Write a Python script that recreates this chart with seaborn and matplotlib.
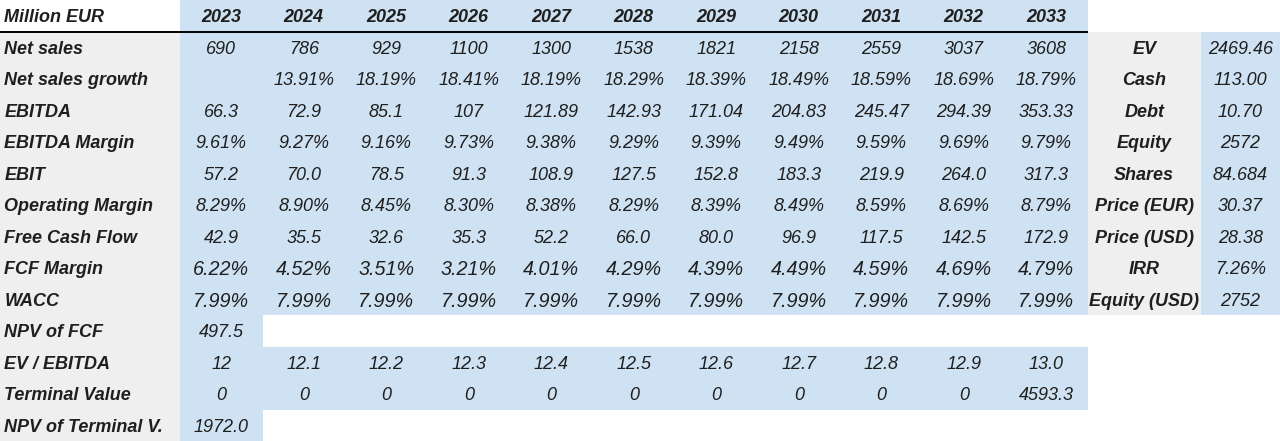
import numpy as np
import matplotlib
matplotlib.use("Agg")
import matplotlib.pyplot as plt
from matplotlib.colors import ListedColormap
import seaborn as sns

# ---------------- data ----------------
years = ["2023", "2024", "2025", "2026", "2027", "2028", "2029", "2030", "2031", "2032", "2033"]
row_labels = ["Net sales", "Net sales growth", "EBITDA", "EBITDA Margin", "EBIT",
              "Operating Margin", "Free Cash Flow", "FCF Margin", "WACC", "NPV of FCF",
              "EV / EBITDA", "Terminal Value", "NPV of Terminal V."]
net_sales = ["690", "786", "929", "1100", "1300", "1538", "1821", "2158", "2559", "3037", "3608"]
net_sales_growth = ["", "13.91%", "18.19%", "18.41%", "18.19%", "18.29%", "18.39%", "18.49%", "18.59%", "18.69%", "18.79%"]
ebitda = ["66.3", "72.9", "85.1", "107", "121.89", "142.93", "171.04", "204.83", "245.47", "294.39", "353.33"]
ebitda_margin = ["9.61%", "9.27%", "9.16%", "9.73%", "9.38%", "9.29%", "9.39%", "9.49%", "9.59%", "9.69%", "9.79%"]
ebit = ["57.2", "70.0", "78.5", "91.3", "108.9", "127.5", "152.8", "183.3", "219.9", "264.0", "317.3"]
operating_margin = ["8.29%", "8.90%", "8.45%", "8.30%", "8.38%", "8.29%", "8.39%", "8.49%", "8.59%", "8.69%", "8.79%"]
free_cash_flow = ["42.9", "35.5", "32.6", "35.3", "52.2", "66.0", "80.0", "96.9", "117.5", "142.5", "172.9"]
fcf_margin = ["6.22%", "4.52%", "3.51%", "3.21%", "4.01%", "4.29%", "4.39%", "4.49%", "4.59%", "4.69%", "4.79%"]
wacc = ["7.99%"] * 11
npv_fcf = ["497.5"] + [""] * 10
ev_ebitda = ["12", "12.1", "12.2", "12.3", "12.4", "12.5", "12.6", "12.7", "12.8", "12.9", "13.0"]
terminal_value = ["0", "0", "0", "0", "0", "0", "0", "0", "0", "0", "4593.3"]
npv_terminal = ["1972.0"] + [""] * 10

summary_labels = ["EV", "Cash", "Debt", "Equity", "Shares", "Price (EUR)", "Price (USD)", "IRR", "Equity (USD)"]
summary_values = ["2469.46", "113.00", "10.70", "2572", "84.684", "30.37", "28.38", "7.26%", "2752"]

# ---------------- style ----------------
sns.set_theme(style="white")
plt.rcParams["font.family"] = ["Liberation Sans", "DejaVu Sans"]

WHITE, GRAY, BLUE = "#ffffff", "#efefef", "#cfe2f3"
cmap = ListedColormap([WHITE, GRAY, BLUE])
TXT = "#1f1f1f"
FS = 13
FS_BIG = 14.2
VA = "center_baseline"

W, H = 1280, 441
fig = plt.figure(figsize=(W / 100, H / 100), dpi=100)
fig.patch.set_facecolor("white")

n_rows = 1 + len(row_labels)

# --- label column ---
ax_lab = fig.add_axes([0, 0, 180 / W, 1])
lab_col = np.ones((n_rows, 1))
lab_col[0, 0] = 0
sns.heatmap(lab_col, ax=ax_lab, cmap=cmap, vmin=0, vmax=2, cbar=False,
            xticklabels=False, yticklabels=False, linewidths=0)
ax_lab.text(0.025, 0.5, "Million EUR", ha="left", va=VA, fontsize=FS,
            fontweight="bold", fontstyle="italic", color=TXT)
for i, lab in enumerate(row_labels):
    ax_lab.text(0.025, i + 1.5, lab, ha="left", va=VA, fontsize=FS,
                fontweight="bold", fontstyle="italic", color=TXT)
ax_lab.axhline(1, color="black", lw=1.4)
ax_lab.set_axis_off()

# --- year block ---
rows = [net_sales, net_sales_growth, ebitda, ebitda_margin, ebit, operating_margin,
        free_cash_flow, fcf_margin, wacc, npv_fcf, ev_ebitda, terminal_value, npv_terminal]
annot = np.array([years] + rows, dtype=object)
yr_col = np.full((n_rows, len(years)), 2.0)
yr_col[10, 1:] = 0  # NPV of FCF row: only first cell shaded
yr_col[13, 1:] = 0  # NPV of Terminal V. row
ax_yr = fig.add_axes([180 / W, 0, 907.5 / W, 1])
sns.heatmap(yr_col, ax=ax_yr, cmap=cmap, vmin=0, vmax=2, cbar=False,
            annot=annot, fmt="", xticklabels=False, yticklabels=False, linewidths=0,
            annot_kws={"fontsize": FS, "fontstyle": "italic", "color": TXT, "va": VA})
for t in ax_yr.texts:
    y = t.get_position()[1]
    if abs(y - 0.5) < 1e-6:
        t.set_fontweight("bold")
    elif abs(y - 8.5) < 1e-6 or abs(y - 9.5) < 1e-6:
        t.set_fontsize(FS_BIG)
ax_yr.axhline(1, color="black", lw=1.4)
ax_yr.set_axis_off()

# --- summary label column ---
n_sum = len(summary_labels)
sum_lab_col = np.zeros((n_rows, 1))
sum_lab_col[1:1 + n_sum, 0] = 1
sum_lab_annot = np.array([[""]] + [[s] for s in summary_labels] + [[""]] * (n_rows - 1 - n_sum), dtype=object)
ax_sl = fig.add_axes([1087.5 / W, 0, 113.5 / W, 1])
sns.heatmap(sum_lab_col, ax=ax_sl, cmap=cmap, vmin=0, vmax=2, cbar=False,
            annot=sum_lab_annot, fmt="", xticklabels=False, yticklabels=False, linewidths=0,
            annot_kws={"fontsize": FS, "fontstyle": "italic", "fontweight": "bold",
                       "color": TXT, "va": VA})
ax_sl.set_axis_off()

# --- summary value column ---
sum_val_col = np.zeros((n_rows, 1))
sum_val_col[1:1 + n_sum, 0] = 2
sum_val_annot = np.array([[""]] + [[s] for s in summary_values] + [[""]] * (n_rows - 1 - n_sum), dtype=object)
ax_sv = fig.add_axes([1201 / W, 0, 79 / W, 1])
sns.heatmap(sum_val_col, ax=ax_sv, cmap=cmap, vmin=0, vmax=2, cbar=False,
            annot=sum_val_annot, fmt="", xticklabels=False, yticklabels=False, linewidths=0,
            annot_kws={"fontsize": FS, "fontstyle": "italic", "color": TXT, "va": VA})
ax_sv.set_axis_off()

fig.savefig("out.png", dpi=100, facecolor="white")
